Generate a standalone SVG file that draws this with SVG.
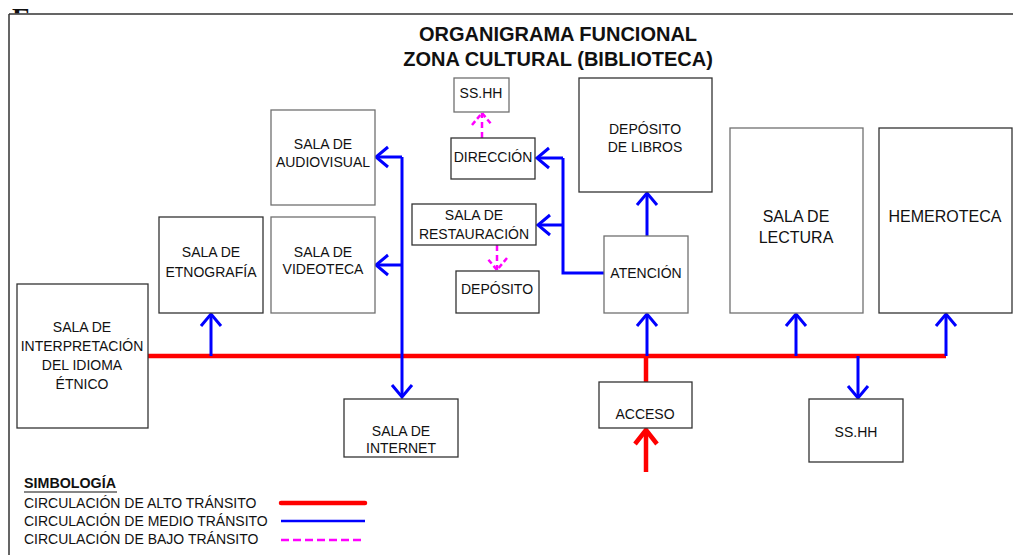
<svg xmlns="http://www.w3.org/2000/svg" width="1013" height="555" viewBox="0 0 1013 555">
<style>
.n rect{fill:#fff;stroke:#333;stroke-width:1.3}
.n.g rect{stroke:#707070}
text{font-family:"Liberation Sans",Arial,sans-serif;font-size:14px;fill:#111;text-anchor:middle}
.big{font-size:16px}
.title{font-size:20px;font-weight:bold}
.leg{text-anchor:start}
.hi{fill:none;stroke:#ff0000;stroke-width:4.5}
.md{fill:none;stroke:#0000ff;stroke-width:3}
.lo{fill:none;stroke:#ff00ff;stroke-width:2.5;stroke-dasharray:6 4}
</style>
<defs>
<clipPath id="topclip"><rect x="0" y="0" width="60" height="13.5"/></clipPath>
<marker id="ab" markerUnits="userSpaceOnUse" orient="auto" refX="0" refY="0" markerWidth="30" markerHeight="30" style="overflow:visible">
<path d="M-12,-10 L0,0 L-12,10" fill="none" stroke="#0000ff" stroke-width="3"/>
</marker>
<marker id="ar" markerUnits="userSpaceOnUse" orient="auto" refX="0" refY="0" markerWidth="30" markerHeight="30" style="overflow:visible">
<path d="M-14,-11 L0,0 L-14,11" fill="none" stroke="#ff0000" stroke-width="4.5"/>
</marker>
<marker id="ap" markerUnits="userSpaceOnUse" orient="auto" refX="0" refY="0" markerWidth="30" markerHeight="30" style="overflow:visible">
<path d="M-12,-10 L0,0 L-12,10" fill="none" stroke="#ff00ff" stroke-width="2.5" stroke-dasharray="5 3"/>
</marker>
</defs>
<rect x="0" y="0" width="1013" height="555" fill="#fff"/>
<text x="12" y="27" clip-path="url(#topclip)" style="font-family:'Liberation Serif',serif;font-size:28px;font-weight:bold;text-anchor:start">E</text>
<path d="M9,14 H1013 M9,14 V555" fill="none" stroke="#333" stroke-width="1.5"/>
<g id="title">
<text class="title" x="558" y="41">ORGANIGRAMA FUNCIONAL</text>
<text class="title" x="558" y="66">ZONA CULTURAL (BIBLIOTECA)</text>
</g>
<g id="connectors">
<line class="hi" x1="147" y1="356" x2="946" y2="356"/>
<line class="hi" x1="646" y1="356" x2="646" y2="382"/>
<line class="hi" x1="646" y1="472" x2="646" y2="430" marker-end="url(#ar)"/>
<line class="md" x1="211" y1="356" x2="211" y2="314" marker-end="url(#ab)"/>
<line class="md" x1="647" y1="356" x2="647" y2="314" marker-end="url(#ab)"/>
<line class="md" x1="647" y1="236" x2="647" y2="193" marker-end="url(#ab)"/>
<line class="md" x1="796" y1="356" x2="796" y2="314" marker-end="url(#ab)"/>
<line class="md" x1="946" y1="356" x2="946" y2="314" marker-end="url(#ab)"/>
<line class="md" x1="858" y1="356" x2="858" y2="398" marker-end="url(#ab)"/>
<line class="md" x1="402" y1="157" x2="402" y2="397" marker-end="url(#ab)"/>
<line class="md" x1="402" y1="157" x2="376" y2="157" marker-end="url(#ab)"/>
<line class="md" x1="402" y1="265" x2="376" y2="265" marker-end="url(#ab)"/>
<path class="md" d="M604,273 H563 V158"/>
<line class="md" x1="563" y1="158" x2="537" y2="158" marker-end="url(#ab)"/>
<line class="md" x1="563" y1="225" x2="538" y2="225" marker-end="url(#ab)"/>
<line class="lo" x1="482" y1="138" x2="482" y2="113" marker-end="url(#ap)"/>
<line class="lo" x1="497" y1="245" x2="497" y2="270" marker-end="url(#ap)"/>
</g>
<g id="n-sshh-top" class="n g"><rect x="454" y="78" width="55" height="34"/><text x="481" y="98">SS.HH</text></g>
<g id="n-direccion" class="n"><rect x="451" y="138" width="84" height="41"/><text x="493" y="162">DIRECCIÓN</text></g>
<g id="n-restauracion" class="n"><rect x="412" y="204" width="124" height="41"/><text x="474" y="220">SALA DE</text><text x="474" y="239">RESTAURACIÓN</text></g>
<g id="n-deposito" class="n"><rect x="456" y="271" width="83" height="42"/><text x="497" y="294">DEPÓSITO</text></g>
<g id="n-audiovisual" class="n g"><rect x="271" y="110" width="104" height="95"/><text x="323" y="149">SALA DE</text><text x="323" y="167">AUDIOVISUAL</text></g>
<g id="n-videoteca" class="n g"><rect x="271" y="217" width="104" height="96"/><text x="323" y="257">SALA DE</text><text x="323" y="274">VIDEOTECA</text></g>
<g id="n-etnografia" class="n"><rect x="159" y="217" width="104" height="96"/><text x="211" y="257">SALA DE</text><text x="211" y="277">ETNOGRAFÍA</text></g>
<g id="n-interpretacion" class="n"><rect x="17" y="284" width="131" height="144"/><text x="82" y="332">SALA DE</text><text x="82" y="351">INTERPRETACIÓN</text><text x="82" y="370">DEL IDIOMA</text><text x="82" y="389">ÉTNICO</text></g>
<g id="n-internet" class="n"><rect x="344" y="399" width="114" height="58"/><text x="401" y="436">SALA DE</text><text x="401" y="453">INTERNET</text></g>
<g id="n-acceso" class="n"><rect x="599" y="382" width="93" height="46"/><text x="645" y="419">ACCESO</text></g>
<g id="n-atencion" class="n g"><rect x="604" y="236" width="84" height="77"/><text x="646" y="278">ATENCIÓN</text></g>
<g id="n-libros" class="n"><rect x="579" y="78" width="133" height="114"/><text x="645" y="134">DEPÓSITO</text><text x="645" y="152">DE LIBROS</text></g>
<g id="n-lectura" class="n g"><rect x="730" y="128" width="133" height="185"/><text class="big" x="796" y="222">SALA DE</text><text class="big" x="796" y="243">LECTURA</text></g>
<g id="n-hemeroteca" class="n"><rect x="879" y="128" width="133" height="185"/><text class="big" x="945" y="222">HEMEROTECA</text></g>
<g id="n-sshh-bottom" class="n"><rect x="809" y="399" width="94" height="63"/><text x="856" y="437">SS.HH</text></g>
<g id="legend">
<text class="leg" x="24" y="488" style="font-weight:bold" textLength="92" lengthAdjust="spacingAndGlyphs">SIMBOLOGÍA</text>
<line x1="24" y1="492" x2="117" y2="492" stroke="#111" stroke-width="1.2"/>
<text class="leg" x="24" y="508">CIRCULACIÓN DE ALTO TRÁNSITO</text>
<text class="leg" x="24" y="526">CIRCULACIÓN DE MEDIO TRÁNSITO</text>
<text class="leg" x="24" y="544">CIRCULACIÓN DE BAJO TRÁNSITO</text>
<line x1="281" y1="503" x2="365" y2="503" stroke="#ff0000" stroke-width="4.5" stroke-linecap="round"/>
<line x1="281" y1="521" x2="365" y2="521" stroke="#0000ff" stroke-width="2.5"/>
<line x1="281" y1="540" x2="365" y2="540" stroke="#ff00ff" stroke-width="2.5" stroke-dasharray="8 4"/>
</g>
</svg>
